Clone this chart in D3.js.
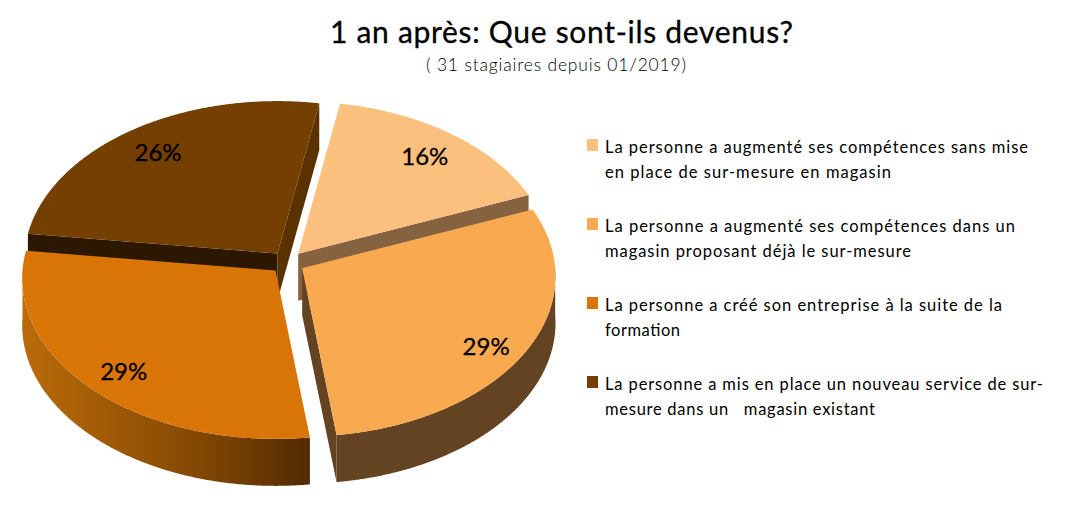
<!DOCTYPE html>
<html><head><meta charset="utf-8">
<script src="https://cdnjs.cloudflare.com/ajax/libs/d3/7.8.5/d3.min.js"></script>
<style>html,body{margin:0;padding:0;background:#fff}svg{display:block}text{font-family:Lato,"Open Sans",sans-serif}</style>
</head><body><svg id="c" width="1079" height="509"></svg>
<script>
const titleText = "1 an après: Que sont-ils devenus?";
const subtitleText = "( 31 stagiaires depuis 01/2019)";
const counts = [5, 9, 9, 8];
const legendLines = [
  ["La personne a augmenté ses compétences sans mise", "en place de sur-mesure en magasin"],
  ["La personne a augmenté ses compétences dans un", "magasin proposant déjà le sur-mesure"],
  ["La personne a créé son entreprise à la suite de la", "formation"],
  ["La personne a mis en place un nouveau service de sur-", "mesure dans un   magasin existant"]
];
const legendWidths = [[423, 286], [410, 306], [397, 75], [438, 270]];
const topColors = ["#FBBF7E", "#F9A94F", "#D97507", "#743F00"];
const startEdgeColors = ["#866240", "#644322", "#864800", "#2C1800"];
const endEdgeColors = ["#866240", "#644322", "#864800", "#5A3200"];
const labelRadius = [0.82, 0.85, 0.84, 0.82];
const labelAngleShift = [0, 3, -1, 0];

const svg = d3.select("#c");
const rx = 253, ry = 160, persp = 0.05, depth = 47, cx = 287.5, cy = 262.5, explode = 17;
const rad = Math.PI / 180, HALF = Math.PI, FULL = 2 * Math.PI;

const pie = d3.pie().sort(null).startAngle(10 * rad).endAngle(370 * rad);
const arcs = pie(counts);
const pct = d3.format(".0%");
const total = d3.sum(counts);

const defs = svg.append("defs");
const grad = defs.append("linearGradient").attr("id", "wall3").attr("gradientUnits", "userSpaceOnUse")
  .attr("x1", 22).attr("x2", 308).attr("y1", 0).attr("y2", 0);
[[0, "#BA6B0A"], [0.3, "#A05A05"], [0.55, "#8A4C04"], [1, "#532B00"]].forEach(s =>
  grad.append("stop").attr("offset", s[0]).attr("stop-color", s[1]));

const lineGen = d3.line();
const px = (c, t, r = 1) => c.x + r * rx * Math.sin(t) / (1 + persp * r * Math.cos(t));
const py = (c, t, r = 1) => c.y - r * ry * Math.cos(t) / (1 + persp * r * Math.cos(t));

function centre(a) {
  const m = (a.startAngle + a.endAngle) / 2;
  return { x: cx + explode * Math.sin(m), y: cy - explode * 0.66 * Math.cos(m) };
}
function samples(a, b) { return d3.range(a, b, 0.005).concat([b]); }
function topFace(c, a) {
  return lineGen([[c.x, c.y]].concat(samples(a.startAngle, a.endAngle).map(t => [px(c, t), py(c, t)]))) + "Z";
}
function edgeWall(c, t) {
  return lineGen([[c.x, c.y], [px(c, t), py(c, t)], [px(c, t), py(c, t) + depth], [c.x, c.y + depth]]) + "Z";
}
function outerWall(c, a, b) {
  const ts = samples(a, b);
  const top = ts.map(t => [px(c, t), py(c, t)]);
  const bottom = ts.slice().reverse().map(t => [px(c, t), py(c, t) + depth]);
  return lineGen(top.concat(bottom)) + "Z";
}

const paintOrder = [3, 0, 2, 1];
paintOrder.forEach(i => {
  const a = arcs[i], c = centre(a), g = svg.append("g");
  const s = a.startAngle % FULL, e = a.endAngle % FULL;
  if (s > HALF) g.append("path").attr("d", edgeWall(c, s)).attr("fill", startEdgeColors[i]);
  if (e < HALF) g.append("path").attr("d", edgeWall(c, e)).attr("fill", endEdgeColors[i]);
  const lo = Math.max(a.startAngle, HALF / 2), hi = Math.min(a.endAngle, HALF * 1.5);
  if (hi > lo) g.append("path").attr("d", outerWall(c, lo, hi))
    .attr("fill", i === 2 ? "url(#wall3)" : endEdgeColors[i]);
  g.append("path").attr("d", topFace(c, a)).attr("fill", topColors[i]);
});

arcs.forEach((a, i) => {
  const c = centre(a), m = (a.startAngle + a.endAngle) / 2 + labelAngleShift[i] * rad;
  svg.append("text").attr("x", px(c, m, labelRadius[i])).attr("y", py(c, m, labelRadius[i]) + 10)
    .attr("text-anchor", "middle").attr("font-size", 24).attr("font-weight", 400)
    .attr("fill", "#000").attr("stroke", "#000").attr("stroke-width", 0.3)
    .text(pct(a.value / total));
});

svg.append("text").attr("x", 330).attr("y", 43).attr("font-size", 30).attr("fill", "#000")
  .attr("stroke", "#000").attr("stroke-width", 0.3)
  .attr("textLength", 463).attr("lengthAdjust", "spacing").text(titleText);
svg.append("text").attr("x", 426).attr("y", 70.5).attr("font-size", 17.5).attr("font-weight", 300).attr("fill", "#000")
  .attr("textLength", 260).attr("lengthAdjust", "spacing").text(subtitleText);

const legendY = d3.scaleLinear().domain([0, 1]).range([139, 218]);
legendLines.forEach((lines, i) => {
  const y = legendY(i);
  svg.append("rect").attr("x", 587).attr("y", y).attr("width", 11).attr("height", 12).attr("fill", topColors[i]);
  lines.forEach((l, j) => {
    svg.append("text").attr("x", 605).attr("y", y + 14 + j * 24.5).attr("font-size", 16.5).attr("fill", "#000")
      .style("white-space", "pre")
      .attr("textLength", legendWidths[i][j]).attr("lengthAdjust", "spacing").text(l);
  });
});
</script></body></html>
